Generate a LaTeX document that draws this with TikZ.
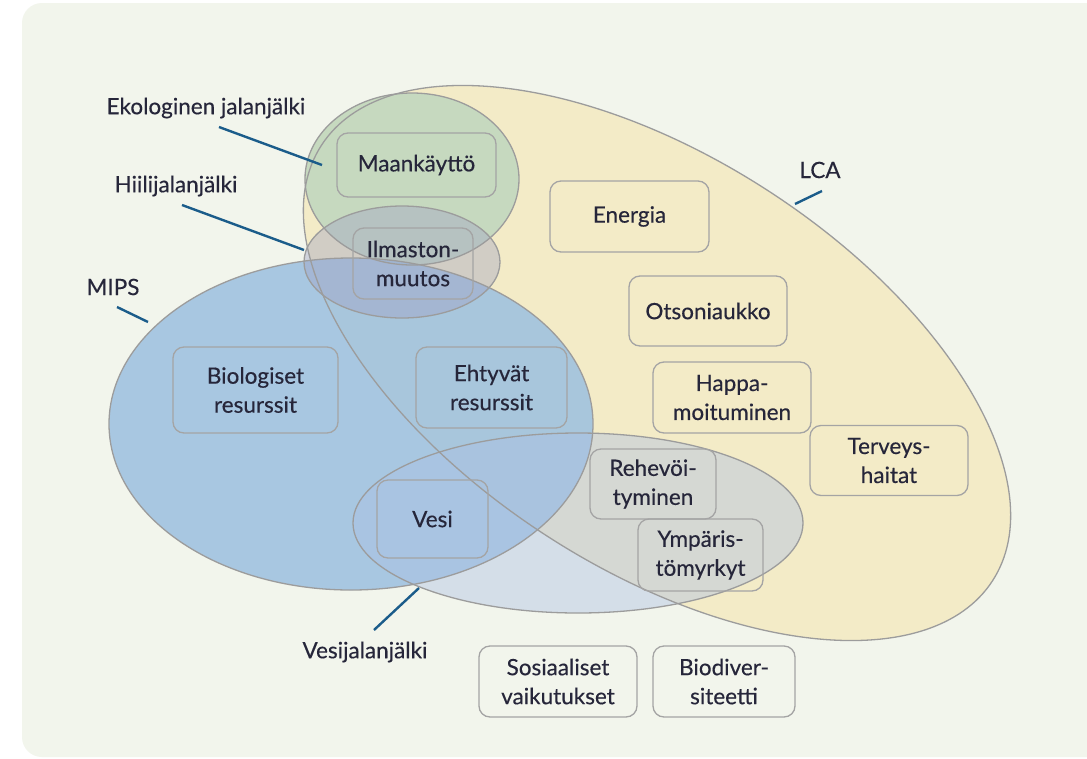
\documentclass[tikz,border=0pt]{standalone}
\usepackage{fontspec}
\setmainfont{Lato}[BoldFont={Lato},BoldFeatures={FakeBold=0.35}]
\definecolor{bgc}{HTML}{F2F5EC}
\definecolor{lcac}{HTML}{F3EBC7}
\definecolor{ekoc}{HTML}{C6D9BF}
\definecolor{mipsc}{HTML}{9CC0E0}
\definecolor{hiilic}{HTML}{9EA0C4}
\definecolor{vesic}{HTML}{ACC0E4}
\definecolor{edgec}{HTML}{9C9C9C}
\definecolor{boxc}{HTML}{A4A4A4}
\definecolor{linec}{HTML}{1B5C8A}
\definecolor{txtc}{HTML}{26263A}
\begin{document}
\begin{tikzpicture}[x=1pt,y=-1pt,
  every node/.style={text=txtc,font=\fontsize{22.5}{29}\selectfont\bfseries},
  boxn/.style={draw=boxc,line width=1.3pt,rounded corners=11pt,align=center,inner sep=0pt},
  lbl/.style={inner sep=0pt,anchor=center},
  lead/.style={draw=linec,line width=2.4pt},
  outl/.style={draw=edgec,line width=1.3pt}]
\useasboundingbox (0,0) rectangle (1087,758);
\fill[white] (0,0) rectangle (1087,758);
\fill[bgc,rounded corners=20pt] (22,3) rectangle (1130,757);
% ellipses: fills
\begin{scope}[shift={(657,363)},rotate=-33]
  \fill[lcac] (0,0) ellipse [x radius=400,y radius=205];
\end{scope}
\fill[ekoc] (412,179) ellipse [x radius=107,y radius=86];
\fill[mipsc,fill opacity=0.85] (351,424) ellipse [x radius=242,y radius=166];
\fill[hiilic,fill opacity=0.4] (402,262) ellipse [x radius=98,y radius=56];
\fill[vesic,fill opacity=0.42] (578,523) ellipse [x radius=225,y radius=90];
% outlines
\begin{scope}[shift={(657,363)},rotate=-33]
  \draw[outl] (0,0) ellipse [x radius=400,y radius=205];
\end{scope}
\draw[outl] (412,179) ellipse [x radius=107,y radius=86];
\draw[outl] (351,424) ellipse [x radius=242,y radius=166];
\draw[outl] (402,262) ellipse [x radius=98,y radius=56];
\draw[outl] (578,523) ellipse [x radius=225,y radius=90];
% labels
\node[lbl] (leko) at (206,108) {Ekologinen jalanjälki};
\node[lbl] (lhii) at (176,186) {Hiilijalanjälki};
\node[lbl] (lmips) at (113,287) {MIPS};
\node[lbl] (llca) at (820,170) {LCA};
\node[lbl] (lves) at (365,652) {Vesijalanjälki};
\coordinate (ekoA) at (219,127); \coordinate (ekoB) at (322,165);
\coordinate (hiiA) at (182,205); \coordinate (hiiB) at (304,250);
\coordinate (mipA) at (117,307); \coordinate (mipB) at (148,322);
\coordinate (lcaA) at (795,204); \coordinate (lcaB) at (822,191);
\coordinate (vesA) at (374,630); \coordinate (vesB) at (419,588);
\draw[lead] (ekoA) -- (ekoB);
\draw[lead] (hiiA) -- (hiiB);
\draw[lead] (mipA) -- (mipB);
\draw[lead] (lcaA) -- (lcaB);
\draw[lead] (vesA) -- (vesB);
% boxes
\node[boxn,minimum width=159pt,minimum height=64pt] (maa) at (416.5,165) {Maankäyttö};
\node[boxn,minimum width=120pt,minimum height=71pt] (ilm) at (413,263.5) {Ilmaston-\\muutos};
\node[boxn,minimum width=159pt,minimum height=71pt] (ene) at (629.5,216.5) {Energia};
\node[boxn,minimum width=158pt,minimum height=70pt] (ots) at (708,311) {Otsoniaukko};
\node[boxn,minimum width=158pt,minimum height=71pt] (hap) at (732,397.5) {Happa-\\moituminen};
\node[boxn,minimum width=158pt,minimum height=70pt] (ter) at (889,460.5) {Terveys-\\haitat};
\node[boxn,minimum width=165pt,minimum height=86pt] (bio) at (255.5,390) {Biologiset\\resurssit};
\node[boxn,minimum width=151pt,minimum height=81pt] (eht) at (491.5,387.5) {Ehtyvät\\resurssit};
\node[boxn,minimum width=111pt,minimum height=78pt] (ves) at (432.5,519) {Vesi};
\node[boxn,minimum width=126pt,minimum height=70pt] (reh) at (653,484) {Rehevöi-\\tyminen};
\node[boxn,minimum width=125pt,minimum height=72pt] (ymp) at (700.5,555) {Ympäris-\\tömyrkyt};
\node[boxn,minimum width=158pt,minimum height=71pt] (sos) at (558,681.5) {Sosiaaliset\\vaikutukset};
\node[boxn,minimum width=142pt,minimum height=71pt] (biod) at (724,681.5) {Biodiver-\\siteetti};
\end{tikzpicture}
\end{document}
